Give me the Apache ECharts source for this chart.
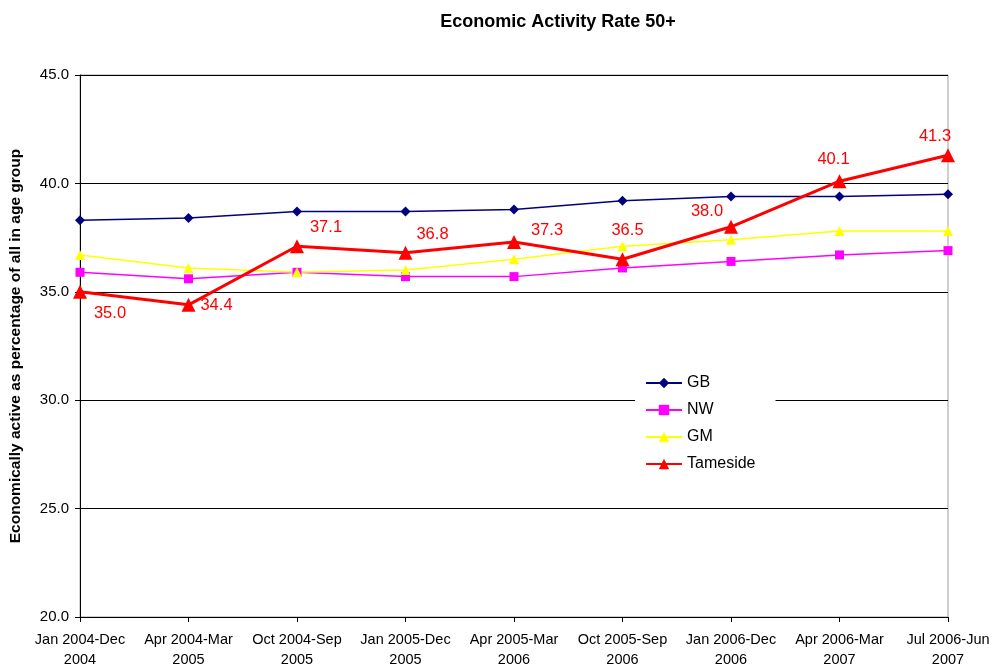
<!DOCTYPE html>
<html>
<head>
<meta charset="utf-8">
<script src="https://cdn.jsdelivr.net/npm/echarts@6/dist/echarts.min.js"></script>
<style>
  html, body { margin: 0; padding: 0; background: #fff; }
  #chart { width: 995px; height: 669px; }
</style>
</head>
<body>
<div id="chart"></div>
<script>
var periods = ['Jan 2004-Dec 2004', 'Apr 2004-Mar 2005', 'Oct 2004-Sep 2005', 'Jan 2005-Dec 2005',
  'Apr 2005-Mar 2006', 'Oct 2005-Sep 2006', 'Jan 2006-Dec 2006', 'Apr 2006-Mar 2007', 'Jul 2006-Jun 2007'];
var gbRate = [38.3, 38.4, 38.7, 38.7, 38.8, 39.2, 39.4, 39.4, 39.5];
var nwRate = [35.9, 35.6, 35.9, 35.7, 35.7, 36.1, 36.4, 36.7, 36.9];
var gmRate = [36.7, 36.1, 35.9, 36.0, 36.5, 37.1, 37.4, 37.8, 37.8];
var tamesideRate = [35.0, 34.4, 37.1, 36.8, 37.3, 36.5, 38.0, 40.1, 41.3];
var yTicks = [20, 25, 30, 35, 40, 45];

// where each Tameside label sits relative to its point
var labelOffsets = [[30, 22], [28, 1], [29, -19], [27, -18], [33, -11], [5, -29], [-24, -15], [-6, -22], [-13, -19]];

var tamesideData = tamesideRate.map(function (v, i) {
  return {
    value: v,
    label: { offset: labelOffsets[i] }
  };
});

var font = 'Liberation Sans, Arial, sans-serif';

var chart = echarts.init(document.getElementById('chart'));
chart.setOption({
  animation: false,
  backgroundColor: '#fff',
  title: {
    text: 'Economic Activity Rate 50+',
    left: 553,
    textAlign: 'center',
    top: 8,
    textStyle: { fontFamily: font, fontSize: 18, fontWeight: 'bold', color: '#000' }
  },
  grid: {
    left: 80, right: 47, top: 75, bottom: 52,
    outerBoundsMode: 'none',
    show: true, borderColor: '#a0a0a0', borderWidth: 1, backgroundColor: '#fff'
  },
  legend: {
    orient: 'vertical',
    left: 635,
    top: 371,
    itemGap: 11,
    itemWidth: 36,
    itemHeight: 13,
    padding: [4, 20, 4, 10],
    backgroundColor: '#fff',
    textStyle: { fontFamily: font, fontSize: 16, color: '#000' },
    data: ['GB', 'NW', 'GM', 'Tameside']
  },
  xAxis: {
    type: 'category',
    data: periods,
    boundaryGap: false,
    axisLine: { lineStyle: { color: '#000', width: 1 } },
    axisTick: { show: true, length: 5, lineStyle: { color: '#000' } },
    axisLabel: {
      interval: 0,
      margin: 13,
      fontFamily: font,
      fontSize: 14.5,
      color: '#000',
      lineHeight: 20,
      formatter: function (s) {
        var k = s.lastIndexOf(' ');
        return s.slice(0, k) + '\n' + s.slice(k + 1);
      }
    }
  },
  yAxis: {
    type: 'value',
    min: yTicks[0],
    max: yTicks[yTicks.length - 1],
    interval: 5,
    name: 'Economically active as percentage of all in age group',
    nameLocation: 'middle',
    nameGap: 56,
    nameTextStyle: { fontFamily: font, fontSize: 15.5, fontWeight: 'bold', color: '#000' },
    axisLine: { show: true, lineStyle: { color: '#000' } },
    axisTick: { show: true, length: 5, lineStyle: { color: '#000' } },
    axisLabel: {
      fontFamily: font, fontSize: 15, color: '#000', margin: 11,
      formatter: function (v) { return v.toFixed(1); }
    },
    splitLine: { lineStyle: { color: '#000', width: 1 } }
  },
  series: [
    {
      name: 'GB', type: 'line', data: gbRate,
      symbol: 'diamond', symbolSize: 10,
      lineStyle: { color: '#000080', width: 1.5 },
      itemStyle: { color: '#000080' }
    },
    {
      name: 'NW', type: 'line', data: nwRate,
      symbol: 'rect', symbolSize: 9,
      lineStyle: { color: '#ff00ff', width: 1.5 },
      itemStyle: { color: '#ff00ff' }
    },
    {
      name: 'GM', type: 'line', data: gmRate,
      symbol: 'triangle', symbolSize: 10,
      lineStyle: { color: '#ffff00', width: 1.5 },
      itemStyle: { color: '#ffff00' }
    },
    {
      name: 'Tameside', type: 'line', data: tamesideData,
      symbol: 'triangle', symbolSize: 14,
      lineStyle: { color: '#ff0000', width: 3 },
      itemStyle: { color: '#ff0000' },
      label: {
        show: true,
        position: 'inside',
        fontFamily: font,
        fontSize: 16.5,
        color: '#ff0000',
        formatter: function (p) { return p.value.toFixed(1); }
      },
      z: 5
    }
  ]
});
</script>
</body>
</html>
